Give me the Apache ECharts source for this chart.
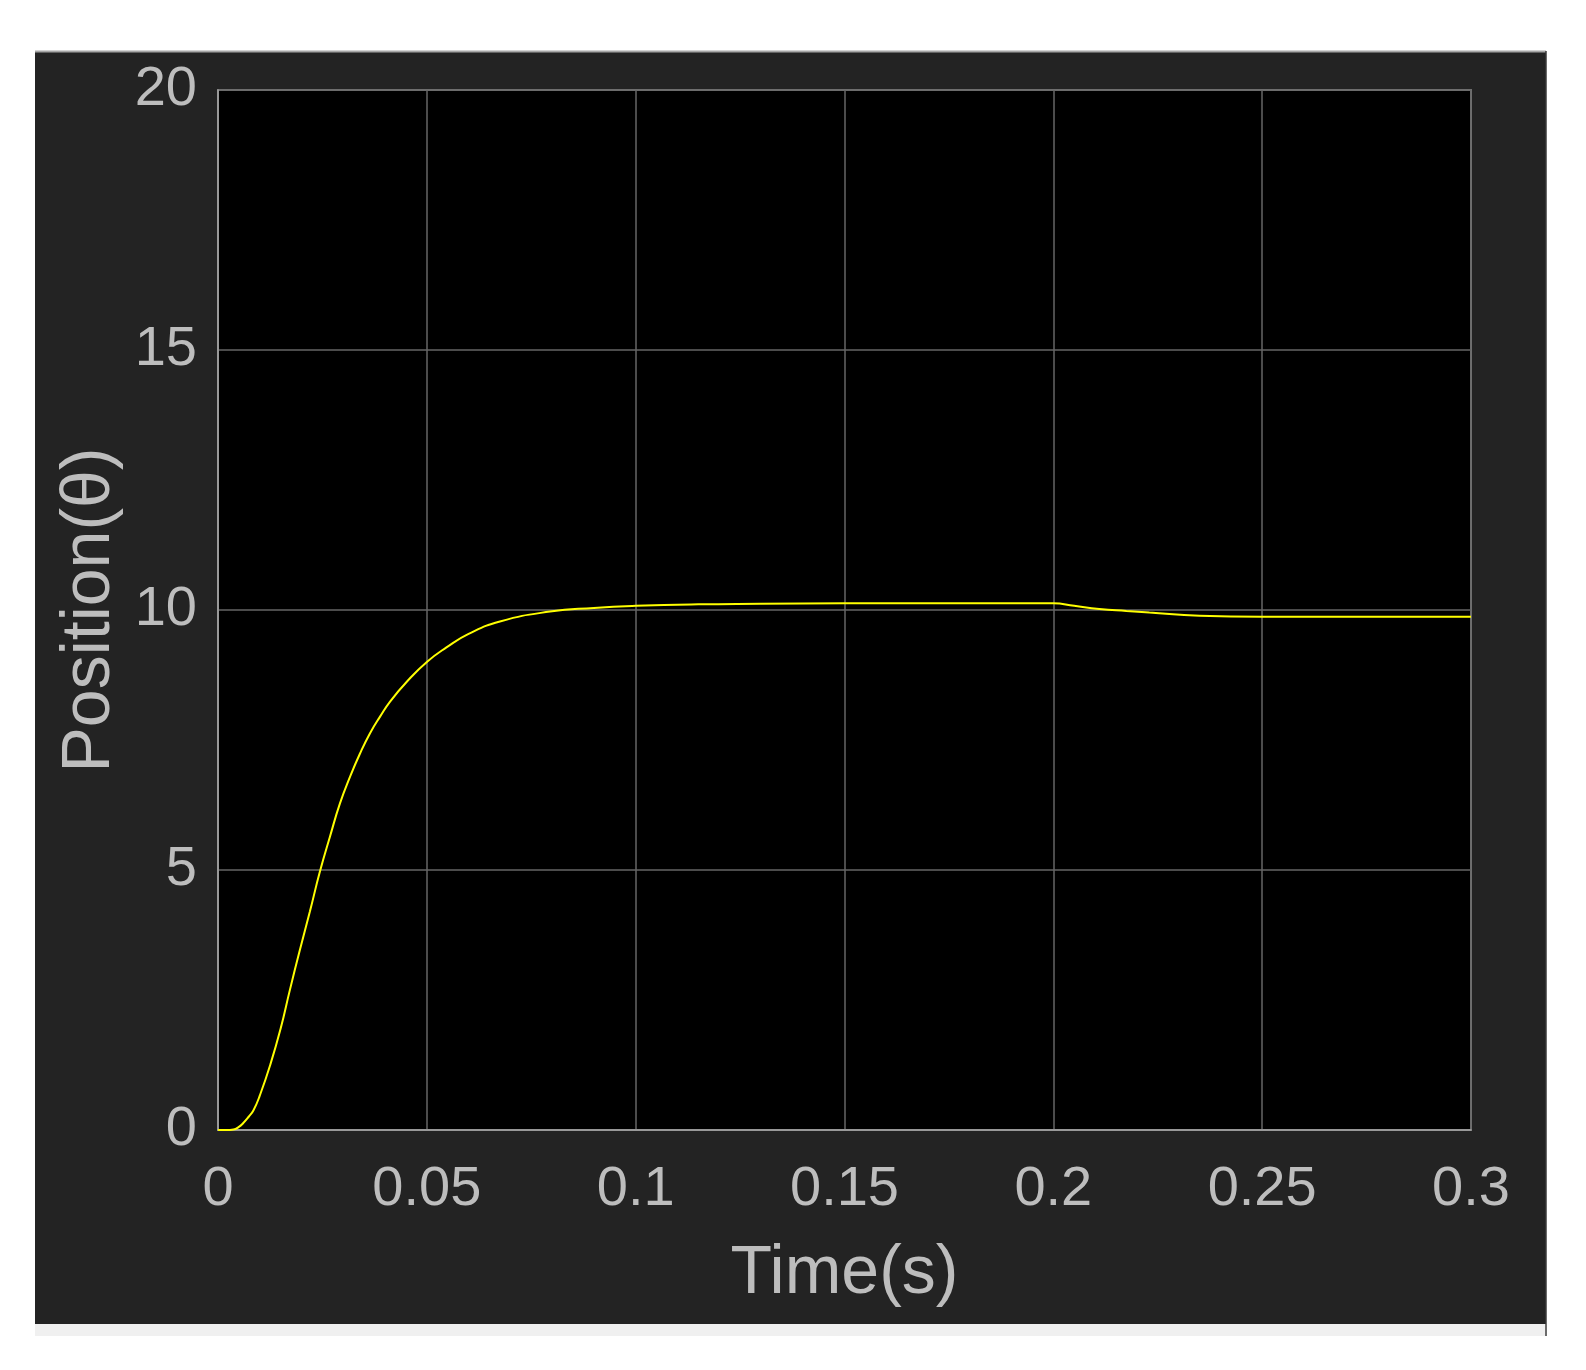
<!DOCTYPE html>
<html>
<head>
<meta charset="utf-8">
<script src="https://cdn.jsdelivr.net/npm/echarts@6/dist/echarts.min.js"></script>
<style>
  html, body { margin: 0; padding: 0; background: #fff; }
  #chart { width: 1586px; height: 1370px; }
</style>
</head>
<body>
<div id="chart"></div>
<script>
// time (s) and position
const timeData = [0, 0.002, 0.0037, 0.005, 0.006, 0.0073, 0.0085, 0.010, 0.0125, 0.015,
  0.0172, 0.0196, 0.022, 0.0244, 0.0268, 0.0292, 0.0316, 0.034, 0.0364, 0.0388,
  0.0412, 0.0452, 0.05, 0.0547, 0.06, 0.0675, 0.0795, 0.09, 0.1, 0.115,
  0.13, 0.15, 0.2, 0.205, 0.211, 0.2175, 0.223, 0.235, 0.25, 0.3]
const positionData = [0, 0, 0.01, 0.06, 0.13, 0.25, 0.38, 0.66, 1.25, 1.95,
  2.69, 3.46, 4.20, 4.97, 5.64, 6.28, 6.79, 7.24, 7.63, 7.95,
  8.24, 8.62, 9.0, 9.28, 9.54, 9.78, 9.97, 10.04, 10.08, 10.11,
  10.12, 10.13, 10.13, 10.08, 10.02, 9.98, 9.95, 9.89, 9.87, 9.87]
const xTicks = [0, 0.05, 0.1, 0.15, 0.2, 0.25, 0.3]
const yTicks = [0, 5, 10, 15, 20]

const font = "'Liberation Sans', Arial, sans-serif"
const labelColor = '#bdbdbd'

const chart = echarts.init(document.getElementById('chart'))
const points = timeData.map((t, i) => [t, positionData[i]])

const option = {
  backgroundColor: '#ffffff',
  animation: false,
  graphic: [
    // dark figure panel
    { type: 'rect', z: -100, shape: { x: 35, y: 51, width: 1511, height: 1273 }, style: { fill: '#232323' } },
    { type: 'rect', z: -100, shape: { x: 35, y: 1324, width: 1510, height: 12 }, style: { fill: '#f0f0f0' } },
    { type: 'line', z: -99, shape: { x1: 35, y1: 51.5, x2: 1546, y2: 51.5 }, style: { stroke: '#a6a6a6', lineWidth: 2 } },
    { type: 'line', z: -99, shape: { x1: 1546, y1: 51, x2: 1546, y2: 1336 }, style: { stroke: '#3a3a3a', lineWidth: 1.5 } }
  ],
  grid: {
    left: 218,
    top: 90,
    width: 1253,
    height: 1040,
    show: true,
    backgroundColor: '#000000',
    borderColor: '#a8a8a8',
    borderWidth: 1.5
  },
  xAxis: {
    type: 'value',
    min: 0,
    max: 0.3,
    interval: 0.05,
    name: 'Time(s)',
    nameLocation: 'middle',
    nameGap: 110,
    nameTextStyle: { color: labelColor, fontSize: 68, fontFamily: font },
    axisLine: { show: true, lineStyle: { color: '#a8a8a8', width: 1.5 } },
    axisTick: { show: false },
    axisLabel: {
      color: labelColor, fontSize: 56, fontFamily: font, margin: 32,
      formatter: v => String(xTicks.find(t => Math.abs(t - v) < 1e-9) ?? v)
    },
    splitLine: { show: true, lineStyle: { color: '#666666', width: 1.5 } }
  },
  yAxis: {
    type: 'value',
    min: 0,
    max: 20,
    interval: 5,
    name: 'Position(θ)',
    nameLocation: 'middle',
    nameGap: 93,
    nameTextStyle: { color: labelColor, fontSize: 68, fontFamily: font },
    axisLine: { show: true, lineStyle: { color: '#a8a8a8', width: 1.5 } },
    axisTick: { show: false },
    axisLabel: {
      color: labelColor, fontSize: 56, fontFamily: font, margin: 21,
      formatter: v => String(yTicks.find(t => t === v) ?? v)
    },
    splitLine: { show: true, lineStyle: { color: '#666666', width: 1.5 } }
  },
  series: [{
    type: 'line',
    data: points,
    smooth: 0.5,
    symbol: 'none',
    lineStyle: { color: '#ffff00', width: 2 },
    z: 5
  }]
}

chart.setOption(option)
window.addEventListener('resize', function () {
  chart.resize()
})
</script>
</body>
</html>
